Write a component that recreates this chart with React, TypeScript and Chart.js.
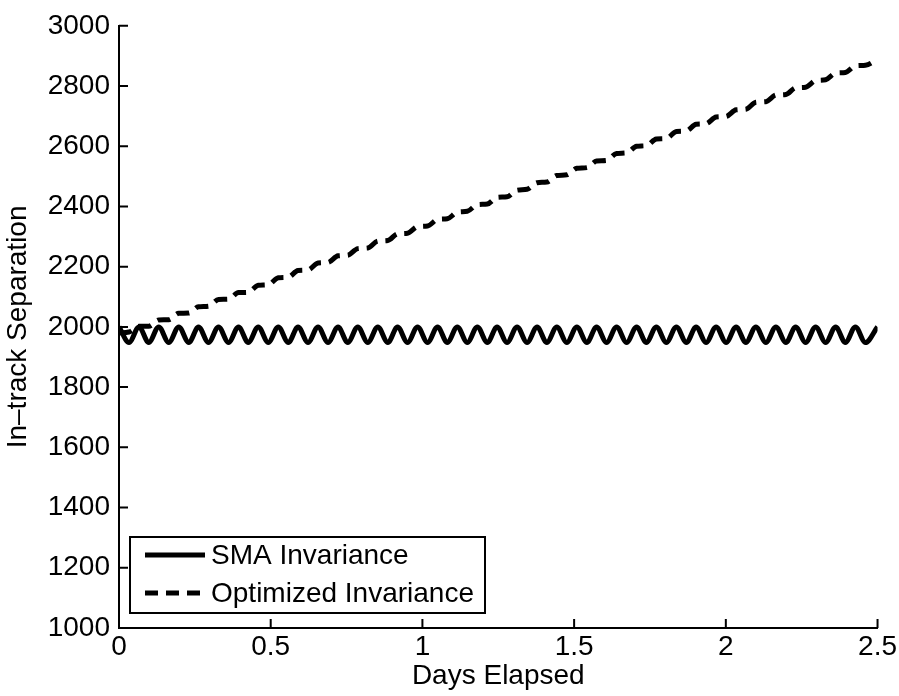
import React, { useEffect, useRef } from "react";
import { Chart, registerables } from "chart.js";

Chart.register(...registerables);

// Days elapsed (extrema of the orbital oscillation)
const days = [
  0, 0.033, 0.066, 0.098, 0.131, 0.164, 0.197, 0.23, 0.262, 0.295,
  0.328, 0.361, 0.394, 0.426, 0.459, 0.492, 0.525, 0.558, 0.59, 0.623,
  0.656, 0.689, 0.722, 0.754, 0.787, 0.82, 0.853, 0.886, 0.918, 0.951,
  0.984, 1.017, 1.05, 1.082, 1.115, 1.148, 1.181, 1.214, 1.246, 1.279,
  1.312, 1.345, 1.378, 1.41, 1.443, 1.476, 1.509, 1.542, 1.574, 1.607,
  1.64, 1.673, 1.706, 1.738, 1.771, 1.804, 1.837, 1.87, 1.902, 1.935,
  1.968, 2.001, 2.034, 2.066, 2.099, 2.132, 2.165, 2.198, 2.23, 2.263,
  2.296, 2.329, 2.362, 2.394, 2.427, 2.46, 2.5,
];

const smaInvariance = [
  2000, 1948, 2000, 1948, 2000, 1948, 2000, 1948, 2000, 1948,
  2000, 1948, 2000, 1948, 2000, 1948, 2000, 1948, 2000, 1948,
  2000, 1948, 2000, 1948, 2000, 1948, 2000, 1948, 2000, 1948,
  2000, 1948, 2000, 1948, 2000, 1948, 2000, 1948, 2000, 1948,
  2000, 1948, 2000, 1948, 2000, 1948, 2000, 1948, 2000, 1948,
  2000, 1948, 2000, 1948, 2000, 1948, 2000, 1948, 2000, 1948,
  2000, 1948, 2000, 1948, 2000, 1948, 2000, 1948, 2000, 1948,
  2000, 1948, 2000, 1948, 2000, 1948, 2000,
];

const optimizedInvariance = [
  1980, 1983, 2002, 2002, 2023, 2024, 2045, 2046, 2067, 2069,
  2091, 2092, 2114, 2115, 2138, 2140, 2163, 2165, 2187, 2189,
  2212, 2214, 2236, 2238, 2260, 2262, 2285, 2287, 2309, 2311,
  2333, 2335, 2357, 2359, 2381, 2384, 2406, 2408, 2430, 2432,
  2454, 2457, 2479, 2481, 2503, 2505, 2527, 2529, 2551, 2553,
  2576, 2578, 2600, 2602, 2624, 2626, 2649, 2651, 2673, 2675,
  2697, 2699, 2721, 2723, 2746, 2748, 2770, 2772, 2794, 2796,
  2818, 2821, 2843, 2845, 2867, 2869, 2889,
];

const seriesLabels = ["SMA Invariance", "Optimized Invariance"];
const xAxisTitle = "Days Elapsed";
const yAxisTitle = "In\u2013track Separation";

const FONT = "'Liberation Sans', Arial, Helvetica, sans-serif";
const FS = 28;

const inwardTicks = {
  id: "inwardTicks",
  afterDraw(chart: any) {
    const ctx = chart.ctx;
    const { left, bottom } = chart.chartArea;
    const xs = chart.scales.x;
    const ys = chart.scales.y;
    ctx.save();
    ctx.strokeStyle = "#000";
    ctx.lineWidth = 2;
    ctx.beginPath();
    xs.ticks.forEach((t: any) => {
      const px = xs.getPixelForValue(t.value);
      ctx.moveTo(px, bottom);
      ctx.lineTo(px, bottom - 9);
    });
    ys.ticks.forEach((t: any) => {
      const py = ys.getPixelForValue(t.value);
      ctx.moveTo(left, py);
      ctx.lineTo(left + 9, py);
    });
    ctx.stroke();
    ctx.restore();
  },
};

const boxLegend = {
  id: "boxLegend",
  afterDraw(chart: any) {
    const ctx = chart.ctx;
    const { left, bottom } = chart.chartArea;
    const bx = left + 11;
    const bw = 355;
    const bh = 76;
    const by = bottom - 15 - bh;
    ctx.save();
    ctx.fillStyle = "#fff";
    ctx.fillRect(bx, by, bw, bh);
    ctx.strokeStyle = "#000";
    ctx.lineWidth = 2;
    ctx.strokeRect(bx, by, bw, bh);
    ctx.font = `${FS}px ${FONT}`;
    ctx.textBaseline = "middle";
    ctx.fillStyle = "#000";
    chart.data.datasets.forEach((ds: any, i: number) => {
      const cy = by + 18 + i * 38;
      ctx.beginPath();
      ctx.lineWidth = ds.borderWidth;
      ctx.setLineDash(ds.borderDash || []);
      ctx.moveTo(bx + 15, cy);
      ctx.lineTo(bx + 75, cy);
      ctx.stroke();
      ctx.setLineDash([]);
      ctx.fillText(ds.label, bx + 81, cy + 1);
    });
    ctx.restore();
  },
};

export default function App() {
  const ref = useRef<HTMLCanvasElement>(null);
  useEffect(() => {
    if (!ref.current) return;
    const chart = new Chart(ref.current, {
      type: "line",
      data: {
        datasets: [
          {
            label: seriesLabels[0],
            data: days.map((d, i) => ({ x: d, y: smaInvariance[i] })),
            borderColor: "#000",
            borderWidth: 5,
            pointRadius: 0,
            cubicInterpolationMode: "monotone",
            fill: false,
          },
          {
            label: seriesLabels[1],
            data: days.map((d, i) => ({ x: d, y: optimizedInvariance[i] })),
            borderColor: "#000",
            borderWidth: 5,
            borderDash: [13, 8],
            pointRadius: 0,
            cubicInterpolationMode: "monotone",
            fill: false,
          },
        ],
      },
      options: {
        animation: false,
        responsive: false,
        maintainAspectRatio: false,
        layout: { padding: { left: 0, right: 20, top: 20, bottom: 0 } },
        plugins: {
          legend: { display: false },
          tooltip: { enabled: false },
        },
        scales: {
          x: {
            type: "linear",
            min: 0,
            max: 2.5,
            ticks: {
              stepSize: 0.5,
              color: "#000",
              font: { family: FONT, size: FS },
              padding: 2,
              maxRotation: 0,
              callback: (v: any) => String(Number(v)),
            },
            grid: { display: false, drawTicks: false },
            border: { display: true, color: "#000", width: 2 },
            title: {
              display: true,
              text: xAxisTitle,
              color: "#000",
              font: { family: FONT, size: FS },
              padding: { top: 0, bottom: 3 },
            },
            afterFit(scale: any) {
              scale.height = 68;
            },
          },
          y: {
            type: "linear",
            min: 1000,
            max: 3000,
            ticks: {
              stepSize: 200,
              color: "#000",
              font: { family: FONT, size: FS },
              padding: 9,
              callback: (v: any) => String(v),
            },
            grid: { display: false, drawTicks: false },
            border: { display: true, color: "#000", width: 2 },
            title: {
              display: true,
              text: yAxisTitle,
              color: "#000",
              font: { family: FONT, size: FS },
              padding: { top: 1, bottom: 0 },
            },
            afterFit(scale: any) {
              scale.width = 119;
            },
          },
        },
      },
      plugins: [inwardTicks, boxLegend],
    });
    return () => chart.destroy();
  }, []);
  return (
    <div style={{ position: "fixed", left: 0, top: 0, width: 899, height: 696, background: "#fff" }}>
      <canvas ref={ref} width={899} height={696} style={{ width: 899, height: 696 }} />
    </div>
  );
}
